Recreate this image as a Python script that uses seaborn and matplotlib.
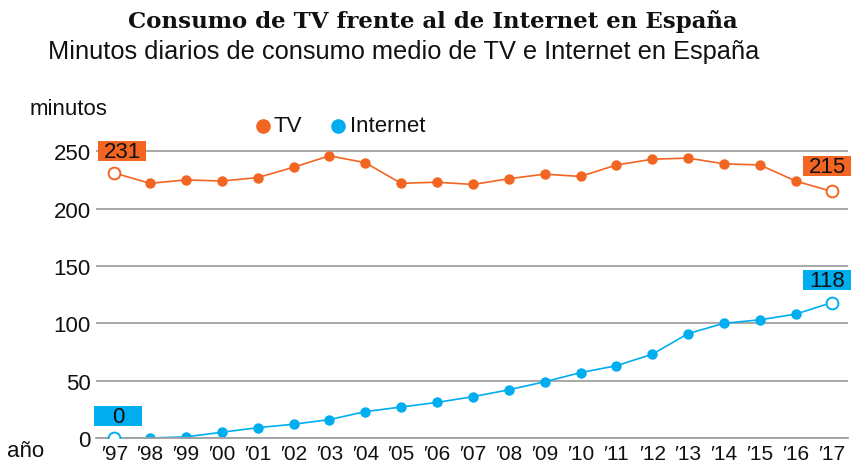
import pandas as pd
import numpy as np
import matplotlib
matplotlib.use('Agg')
import matplotlib.pyplot as plt
from matplotlib.patches import Rectangle
import seaborn as sns

# Datos
anios = list(range(1997, 2018))
etiquetas_anio = ["′97", "′98", "′99", "′00", "′01", "′02", "′03", "′04", "′05", "′06", "′07",
                  "′08", "′09", "′10", "′11", "′12", "′13", "′14", "′15", "′16", "′17"]
tv = [231, 222, 225, 224, 227, 236, 246, 240, 222, 223, 221,
      226, 230, 228, 238, 243, 244, 239, 238, 224, 215]
internet = [0, 0, 1, 5, 9, 12, 16, 23, 27, 31, 36,
            42, 49, 57, 63, 73, 91, 100, 103, 108, 118]
yticks = [0, 50, 100, 150, 200, 250]

naranja = '#F26522'
azul = '#00AEEF'

df = pd.DataFrame({
    'anio': anios * 2,
    'minutos': tv + internet,
    'serie': ['TV'] * len(anios) + ['Internet'] * len(anios),
})

sns.set_theme(style='white')
plt.rcParams['font.family'] = ['Liberation Sans', 'DejaVu Sans']

fig = plt.figure(figsize=(8.52, 4.64), dpi=100)
ax = fig.add_axes([0.113, 0.0539, 0.882, 0.6675])

sns.lineplot(data=df, x='anio', y='minutos', hue='serie',
             palette={'TV': naranja, 'Internet': azul},
             marker='o', markersize=7.5, markeredgewidth=0, linewidth=1.2,
             legend=False, ax=ax)

# Puntos extremos huecos
for serie, color in [(tv, naranja), (internet, azul)]:
    ax.plot([anios[0], anios[-1]], [serie[0], serie[-1]], 'o', markersize=8.5,
            markerfacecolor='white', markeredgecolor=color, markeredgewidth=1.4, zorder=5)

ax.set_xlim(1996.5, 2017.45)
ax.set_ylim(0, 270)
ax.set_yticks(yticks)
ax.set_xticks(anios)
ax.set_xticklabels(etiquetas_anio)
ax.tick_params(axis='both', length=0, colors='#111111')
ax.tick_params(axis='y', labelsize=16, pad=4)
ax.tick_params(axis='x', labelsize=15, pad=4)
ax.grid(axis='y', color='#a0a0a0', linewidth=1.3)
ax.grid(axis='x', visible=False)
for s in ['top', 'left', 'right']:
    ax.spines[s].set_visible(False)
ax.spines['bottom'].set_color('#a0a0a0')
ax.spines['bottom'].set_linewidth(1.3)
ax.set_xlabel('')
ax.set_ylabel('')

# Etiquetas de valores (cajas de color)
ancho_caja = 1.34
alto_caja = 17.5

def etiqueta(x, y, valor, color):
    ax.add_patch(Rectangle((x - ancho_caja / 2, y - alto_caja / 2), ancho_caja, alto_caja,
                           facecolor=color, edgecolor='none', zorder=6, clip_on=False))
    ax.text(x, y - 0.5, str(valor), ha='center', va='center', fontsize=16, color='#111111',
            zorder=7, clip_on=False)

etiqueta(anios[0] + 0.22, tv[0] + 19, tv[0], naranja)
etiqueta(anios[-1] - 0.12, tv[-1] + 22, tv[-1], naranja)
etiqueta(anios[0] + 0.11, internet[0] + 19, internet[0], azul)
etiqueta(anios[-1] - 0.12, internet[-1] + 20, internet[-1], azul)

# Leyenda manual
y_ley = 1 - 127 / 464
for xm, xt, color, nombre in [(263, 274, naranja, 'TV'), (338, 350, azul, 'Internet')]:
    fig.lines.append(plt.Line2D([xm / 852], [y_ley], marker='o', linestyle='', color=color,
                                markersize=9.5, transform=fig.transFigure, figure=fig))
    fig.text(xt / 852, y_ley, nombre, fontsize=16, color='#111111', va='center', ha='left')

fig.text(0.035, 0.765, 'minutos', fontsize=16, color='#111111', va='center')
fig.text(0.008, 0.027, 'año', fontsize=16, color='#111111', va='center')

fig.text(0.508, 0.953, 'Consumo de TV frente al de Internet en España', ha='center', va='center',
         fontsize=16.5, fontweight='bold', family='DejaVu Serif', color='#111111')
fig.text(0.056, 0.888, 'Minutos diarios de consumo medio de TV e Internet en España', ha='left',
         va='center', fontsize=18.25, color='#111111')

fig.savefig('out.png', dpi=100)
